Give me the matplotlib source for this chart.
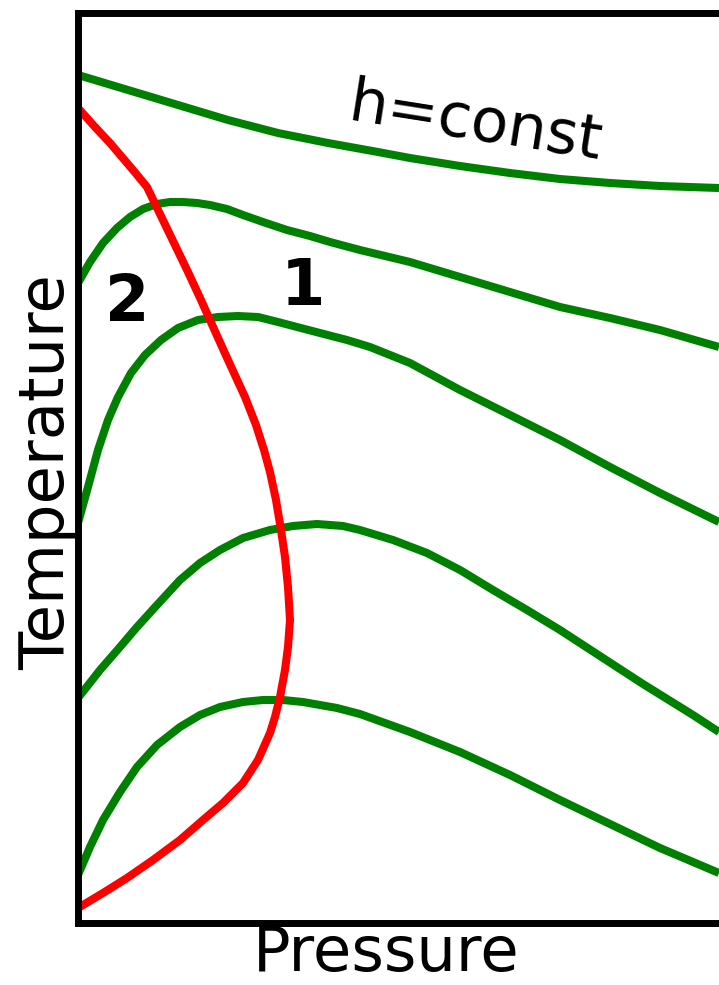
import matplotlib
matplotlib.use("Agg")
import matplotlib.pyplot as plt

# Isenthalps (h = const) in the T-P plane, arbitrary units, top to bottom
h1_p = [0.00, 0.50, 1.00, 1.50, 2.00, 2.50, 3.00, 3.32, 3.82, 4.32, 4.82, 5.32, 5.82, 6.41]
h1_t = [8.48, 8.33, 8.18, 8.03, 7.90, 7.80, 7.71, 7.65, 7.57, 7.50, 7.44, 7.40, 7.37, 7.35]

h2_p = [0.00, 0.12, 0.25, 0.39, 0.52, 0.65, 0.79, 0.92, 1.05, 1.19, 1.32, 1.49, 1.65,
        1.85, 2.09, 2.32, 2.52, 2.82, 3.32, 3.82, 4.32, 4.82, 5.32, 5.82, 6.41]
h2_t = [6.40, 6.61, 6.80, 6.95, 7.06, 7.14, 7.19, 7.21, 7.21, 7.20, 7.18, 7.14, 7.08,
        7.01, 6.93, 6.87, 6.81, 6.73, 6.61, 6.46, 6.31, 6.16, 6.05, 5.93, 5.76]

h3_p = [0.00, 0.10, 0.20, 0.30, 0.40, 0.53, 0.67, 0.83, 1.00, 1.20, 1.40, 1.60, 1.80,
        2.00, 2.19, 2.42, 2.69, 2.92, 3.32, 3.82, 4.32, 4.82, 5.32, 5.82, 6.41]
h3_t = [4.00, 4.36, 4.73, 5.03, 5.26, 5.50, 5.68, 5.83, 5.95, 6.03, 6.06, 6.07, 6.06,
        6.01, 5.96, 5.90, 5.83, 5.76, 5.60, 5.33, 5.08, 4.83, 4.56, 4.30, 4.01]

h4_p = [0.00, 0.22, 0.42, 0.59, 0.79, 1.02, 1.22, 1.42, 1.65, 1.92, 2.15, 2.39,
        2.65, 2.82, 3.15, 3.49, 3.82, 4.15, 4.49, 4.82, 5.25, 5.65, 6.15, 6.41]
h4_t = [2.25, 2.53, 2.76, 2.96, 3.18, 3.43, 3.60, 3.73, 3.85, 3.93, 3.97, 3.99,
        3.97, 3.93, 3.83, 3.70, 3.53, 3.33, 3.13, 2.93, 2.65, 2.39, 2.08, 1.91]

h5_p = [0.00, 0.12, 0.25, 0.42, 0.59, 0.79, 1.02, 1.22, 1.42, 1.65, 1.85,
        2.05, 2.25, 2.59, 2.82, 3.32, 3.82, 4.32, 4.82, 5.32, 5.82, 6.41]
h5_t = [0.48, 0.76, 1.03, 1.31, 1.56, 1.78, 1.96, 2.08, 2.16, 2.21, 2.23,
        2.23, 2.21, 2.15, 2.09, 1.91, 1.71, 1.48, 1.23, 0.99, 0.75, 0.50]

# Inversion curve
inv_p = [0.00, 0.17, 0.32, 0.55, 0.69, 0.82, 0.96, 1.10, 1.23, 1.36,
         1.50, 1.67, 1.78, 1.86, 1.92, 1.98, 2.03, 2.07, 2.10, 2.12,
         2.10, 2.07, 2.02, 1.97, 1.92, 1.80, 1.65, 1.45, 1.25, 1.02,
         0.75, 0.49, 0.25, 0.00]
inv_t = [8.15, 7.96, 7.80, 7.53, 7.36, 7.09, 6.80, 6.51, 6.23, 5.94,
         5.63, 5.26, 4.98, 4.73, 4.51, 4.23, 3.93, 3.66, 3.36, 3.03,
         2.76, 2.53, 2.26, 2.06, 1.90, 1.63, 1.40, 1.20, 1.03, 0.83,
         0.63, 0.45, 0.30, 0.15]

isenthalps = [(h1_p, h1_t), (h2_p, h2_t), (h3_p, h3_t), (h4_p, h4_t), (h5_p, h5_t)]

fig = plt.figure(figsize=(7.19, 9.85), dpi=100)
# axes runs past the right edge of the figure, so only three sides show
ax = fig.add_axes([78 / 719, 62 / 985, 682 / 719, 910.5 / 985])

for p, t in isenthalps:
    ax.plot(p, t, color='green', lw=5.8, solid_capstyle='butt', solid_joinstyle='round')
ax.plot(inv_p, inv_t, color='red', lw=5.8, solid_capstyle='butt', solid_joinstyle='round')

ax.set_xlim(0, 6.82)
ax.set_ylim(0, 9.105)
ax.set_xticks([])
ax.set_yticks([])
for side in ['left', 'bottom', 'top']:
    ax.spines[side].set_linewidth(5)
ax.spines['right'].set_visible(False)

ax.text(3.97, 7.99, 'h=const', fontsize=44, rotation=-9, ha='center', va='center')
ax.text(0.49, 6.20, '2', fontsize=46, fontweight='bold', ha='center', va='center')
ax.text(2.25, 6.36, '1', fontsize=46, fontweight='bold', ha='center', va='center')

fig.text(386 / 719, 1 / 985, 'Pressure', fontsize=45, ha='center', va='bottom')
fig.text(47 / 719, 1 - 472 / 985, 'Temperature', fontsize=45, rotation=90, ha='center', va='center')

fig.savefig('out.png', dpi=100)
